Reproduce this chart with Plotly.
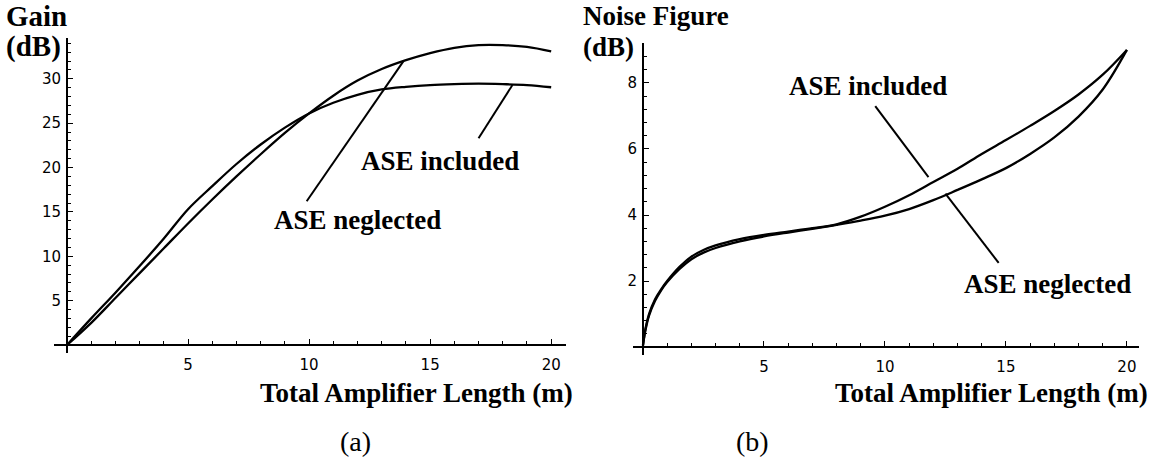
import plotly.graph_objects as go

# ---------------- data ----------------
gain_x = [0, 1, 2, 3, 4, 5, 6, 7, 8, 9, 10, 11, 12, 13, 14, 15, 16, 17, 18, 19, 20]
gain_neglected = [0, 2.5, 5.3, 8.1, 10.9, 13.7, 16.4, 19.0, 21.5, 23.9, 26.1, 28.1,
                  29.8, 31.1, 32.1, 32.9, 33.5, 33.8, 33.8, 33.6, 33.1]
gain_included = [0, 3.0, 5.9, 8.9, 12.0, 15.3, 17.9, 20.4, 22.6, 24.5, 26.1, 27.3,
                 28.2, 28.8, 29.1, 29.3, 29.4, 29.45, 29.4, 29.3, 29.05]

nf_x = [0, 0.1, 0.25, 0.5, 0.75, 1, 1.5, 2, 2.5, 3, 4, 5, 6, 7, 8, 9, 10, 11, 12,
        13, 14, 15, 16, 17, 18, 19, 20]
nf_included = [0.05, 0.55, 1.0, 1.45, 1.75, 2.0, 2.42, 2.74, 2.94, 3.08, 3.27, 3.4,
               3.5, 3.6, 3.72, 3.95, 4.25, 4.6, 5.0, 5.4, 5.85, 6.27, 6.7, 7.15,
               7.65, 8.25, 9.0]
nf_neglected = [0.05, 0.5, 0.95, 1.4, 1.72, 1.97, 2.36, 2.66, 2.86, 3.0, 3.2, 3.35,
                3.47, 3.58, 3.7, 3.83, 3.98, 4.18, 4.45, 4.76, 5.08, 5.42, 5.85,
                6.35, 6.98, 7.8, 9.0]

gain_ticks = [5, 10, 15, 20, 25, 30]
nf_ticks = [2, 4, 6, 8]
x_ticks = [5, 10, 15, 20]

# annotation pointer lines (data coordinates)
gain_neg_ptr_x = [9.9, 13.9]
gain_neg_ptr_y = [16.2, 32.0]
gain_inc_ptr_x = [17.0, 18.4]
gain_inc_ptr_y = [23.3, 29.3]
nf_inc_ptr_x = [9.6, 11.8]
nf_inc_ptr_y = [7.3, 5.15]
nf_neg_ptr_x = [12.5, 14.7]
nf_neg_ptr_y = [4.65, 2.55]

# ---------------- layout geometry ----------------
W, H = 1154, 468
L_XR = [-0.55, 20.6]
L_YR = [-0.9, 34.6]
R_XR = [-0.4, 20.5]
R_YR = [-0.24, 9.21]
L_PX = (53.7, 565.7)   # pixel extent of left x-domain
L_PY = (38, 353)       # pixel extent (top, bottom) of left y-domain
R_PX = (633.3, 1139)
R_PY = (43, 355)


def fx(px):
    return px / W


def fy(py):
    return 1 - py / H


def frac(v, r, d):
    return d[0] + (v - r[0]) / (r[1] - r[0]) * (d[1] - d[0])


L_XD = [fx(L_PX[0]), fx(L_PX[1])]
L_YD = [fy(L_PY[1]), fy(L_PY[0])]
R_XD = [fx(R_PX[0]), fx(R_PX[1])]
R_YD = [fy(R_PY[1]), fy(R_PY[0])]

BOLD = dict(family="Liberation Serif", size=27, color="black")
TICKF = dict(family="DejaVu Sans", size=15, color="black")

fig = go.Figure()
line = dict(color="black", width=2.3)
thin = dict(color="black", width=2.0)

fig.add_trace(go.Scatter(x=gain_x, y=gain_neglected, mode="lines", line=line,
                         line_shape="spline", xaxis="x", yaxis="y"))
fig.add_trace(go.Scatter(x=gain_x, y=gain_included, mode="lines", line=line,
                         line_shape="spline", xaxis="x", yaxis="y"))
fig.add_trace(go.Scatter(x=gain_neg_ptr_x, y=gain_neg_ptr_y, mode="lines", line=thin,
                         xaxis="x", yaxis="y"))
fig.add_trace(go.Scatter(x=gain_inc_ptr_x, y=gain_inc_ptr_y, mode="lines", line=thin,
                         xaxis="x", yaxis="y"))

fig.add_trace(go.Scatter(x=nf_x, y=nf_included, mode="lines", line=line,
                         line_shape="spline", xaxis="x2", yaxis="y2"))
fig.add_trace(go.Scatter(x=nf_x, y=nf_neglected, mode="lines", line=line,
                         line_shape="spline", xaxis="x2", yaxis="y2"))
fig.add_trace(go.Scatter(x=nf_inc_ptr_x, y=nf_inc_ptr_y, mode="lines", line=thin,
                         xaxis="x2", yaxis="y2"))
fig.add_trace(go.Scatter(x=nf_neg_ptr_x, y=nf_neg_ptr_y, mode="lines", line=thin,
                         xaxis="x2", yaxis="y2"))


def xaxis(r, d, ypos):
    return dict(range=r, domain=d, anchor="free", position=ypos, showline=True,
                linecolor="black", linewidth=2, showgrid=False, zeroline=False,
                tickmode="array", tickvals=x_ticks, ticks="inside", ticklen=5,
                tickwidth=1.3, tickcolor="black", tickfont=TICKF,
                ticklabelstandoff=6,
                minor=dict(dtick=1, tick0=0, ticks="inside", ticklen=3,
                           tickwidth=1, tickcolor="black"))


def yaxis(r, d, xpos, ticks, mdt):
    return dict(range=r, domain=d, anchor="free", position=xpos, showline=True,
                linecolor="black", linewidth=2, showgrid=False, zeroline=False,
                tickmode="array", tickvals=ticks, ticks="inside", ticklen=5,
                tickwidth=1.3, tickcolor="black", tickfont=TICKF,
                ticklabelstandoff=2,
                minor=dict(dtick=mdt, tick0=0, ticks="inside", ticklen=3,
                           tickwidth=1, tickcolor="black"))


fig.update_layout(
    width=W, height=H, autosize=False,
    margin=dict(l=0, r=0, t=0, b=0),
    paper_bgcolor="white", plot_bgcolor="white",
    showlegend=False,
    xaxis=xaxis(L_XR, L_XD, frac(0, L_YR, L_YD)),
    yaxis=yaxis(L_YR, L_YD, frac(0, L_XR, L_XD), gain_ticks, 1),
    xaxis2=xaxis(R_XR, R_XD, frac(0, R_YR, R_YD)),
    yaxis2=yaxis(R_YR, R_YD, frac(0, R_XR, R_XD), nf_ticks, 0.4),
)

ann = []


def text_px(t, px, py, font, xanchor="left"):
    ann.append(dict(text=t, x=fx(px), y=fy(py), xref="paper", yref="paper",
                    xanchor=xanchor, yanchor="middle", showarrow=False, font=font))


GAINF = dict(family="Liberation Serif", size=29, color="black")
text_px("<b>Gain</b>", 4, 16, GAINF)
text_px("<b>(dB)</b>", 4, 47, GAINF)
text_px("<b>Noise Figure</b>", 581, 16, BOLD)
text_px("<b>(dB)</b>", 581, 47, BOLD)
text_px("<b>Total Amplifier Length (m)</b>", 575, 393, BOLD, "right")
text_px("<b>Total Amplifier Length (m)</b>", 1150, 393, BOLD, "right")
SERIF = dict(family="Liberation Serif", size=28, color="black")
text_px("(a)", 355, 441, SERIF, "center")
text_px("(b)", 752, 441, SERIF, "center")

for t, x, y, xr, yr in [("ASE included", 15.4, 20.7, "x", "y"),
                        ("ASE neglected", 12.0, 14.1, "x", "y"),
                        ("ASE included", 9.3, 7.9, "x2", "y2"),
                        ("ASE neglected", 16.7, 1.9, "x2", "y2")]:
    ann.append(dict(text="<b>" + t + "</b>", x=x, y=y, xref=xr, yref=yr,
                    showarrow=False, font=BOLD, xanchor="center", yanchor="middle"))

fig.update_layout(annotations=ann)
fig.write_html("out.html")
